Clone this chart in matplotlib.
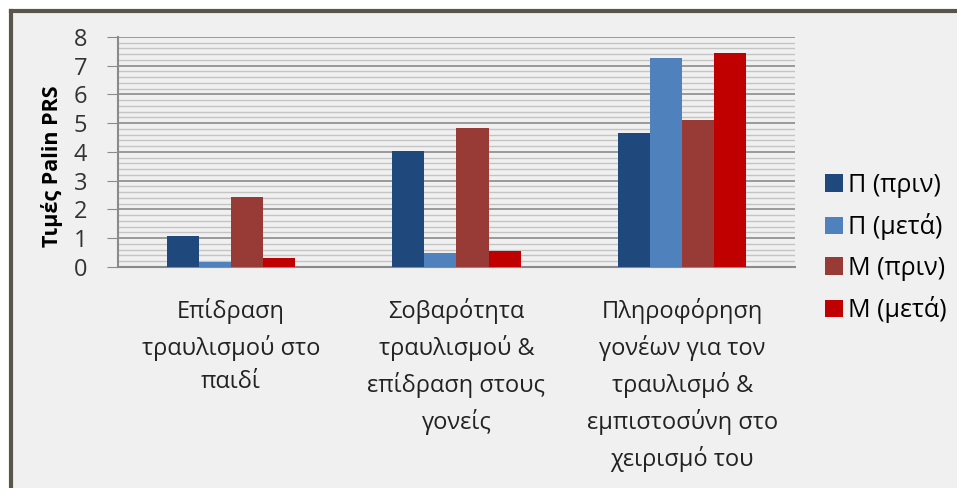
import numpy as np
import matplotlib.pyplot as plt
from matplotlib.patches import Rectangle
from matplotlib.lines import Line2D
from matplotlib.ticker import MultipleLocator

plt.rcParams['font.family'] = ['Open Sans', 'DejaVu Sans']

categories = ["Επίδραση\nτραυλισμού στο\nπαιδί",
              "Σοβαρότητα\nτραυλισμού &\nεπίδραση στους\nγονείς",
              "Πληροφόρηση\nγονέων για τον\nτραυλισμό &\nεμπιστοσύνη στο\nχειρισμό του"]
series = ["Π (πριν)", "Π (μετά)", "Μ (πριν)", "Μ (μετά)"]
p_before = [1.08, 4.05, 4.66]
p_after = [0.18, 0.5, 7.28]
m_before = [2.43, 4.82, 5.1]
m_after = [0.3, 0.57, 7.45]
colors = ["#1f497d", "#4f81bd", "#983a36", "#c00000"]

fig = plt.figure(figsize=(9.57, 4.88), dpi=100)
fig.patch.set_facecolor("white")
# dark frame on top/left, grey fill inside
fig.patches.append(Rectangle((0.011, 0), 0.989, 0.977, transform=fig.transFigure,
                             facecolor="#f0f0f0", edgecolor="none", zorder=-2))
fig.lines.append(Line2D([0.011, 1], [0.978, 0.978], transform=fig.transFigure,
                        color="#5a554a", lw=3))
fig.lines.append(Line2D([0.011, 0.011], [0, 0.978], transform=fig.transFigure,
                        color="#5a554a", lw=3))

ax = fig.add_axes([0.1233, 0.4529, 0.7074, 0.4713])
ax.set_facecolor("#f0f0f0")

x = np.arange(len(categories))
w = 0.142
for i, vals in enumerate([p_before, p_after, m_before, m_after]):
    ax.bar(x + (i - 1.5) * w, vals, w, color=colors[i], label=series[i], zorder=3)

ax.set_xlim(-0.5, 2.5)
ax.set_ylim(0, 8)
ax.yaxis.set_major_locator(MultipleLocator(1))
ax.yaxis.set_minor_locator(MultipleLocator(0.2))
ax.grid(axis="y", which="major", color="#8a8a8a", lw=1.2, zorder=1)
ax.grid(axis="y", which="minor", color="#c4c4c4", lw=1.0, zorder=0)
for s in ["top", "right"]:
    ax.spines[s].set_visible(False)
ax.spines["left"].set_color("#8a8a8a")
ax.spines["bottom"].set_color("#8a8a8a")
ax.spines["left"].set_linewidth(1.5)
ax.spines["bottom"].set_linewidth(1.5)
ax.tick_params(axis="y", which="major", length=8, color="#8a8a8a", labelsize=17,
               pad=14, labelcolor="#333333")
ax.tick_params(axis="y", which="minor", length=0)
ax.tick_params(axis="x", length=0, pad=22)
ax.set_xticks(x)
ax.set_xticklabels(categories, fontsize=17, linespacing=1.55, color="#222222", va="top")
ax.set_ylabel("Τιμές Palin PRS", fontsize=15.5, fontweight="bold")
ax.yaxis.set_label_coords(-0.081, 0.44)

fig.legend(loc="center left", bbox_to_anchor=(0.862, 0.492), frameon=False,
           fontsize=18, handlelength=0.72, handleheight=0.7, handletextpad=0.2,
           labelspacing=0.62, borderaxespad=0, borderpad=0)

fig.savefig("out.png", dpi=100, facecolor=fig.get_facecolor())
